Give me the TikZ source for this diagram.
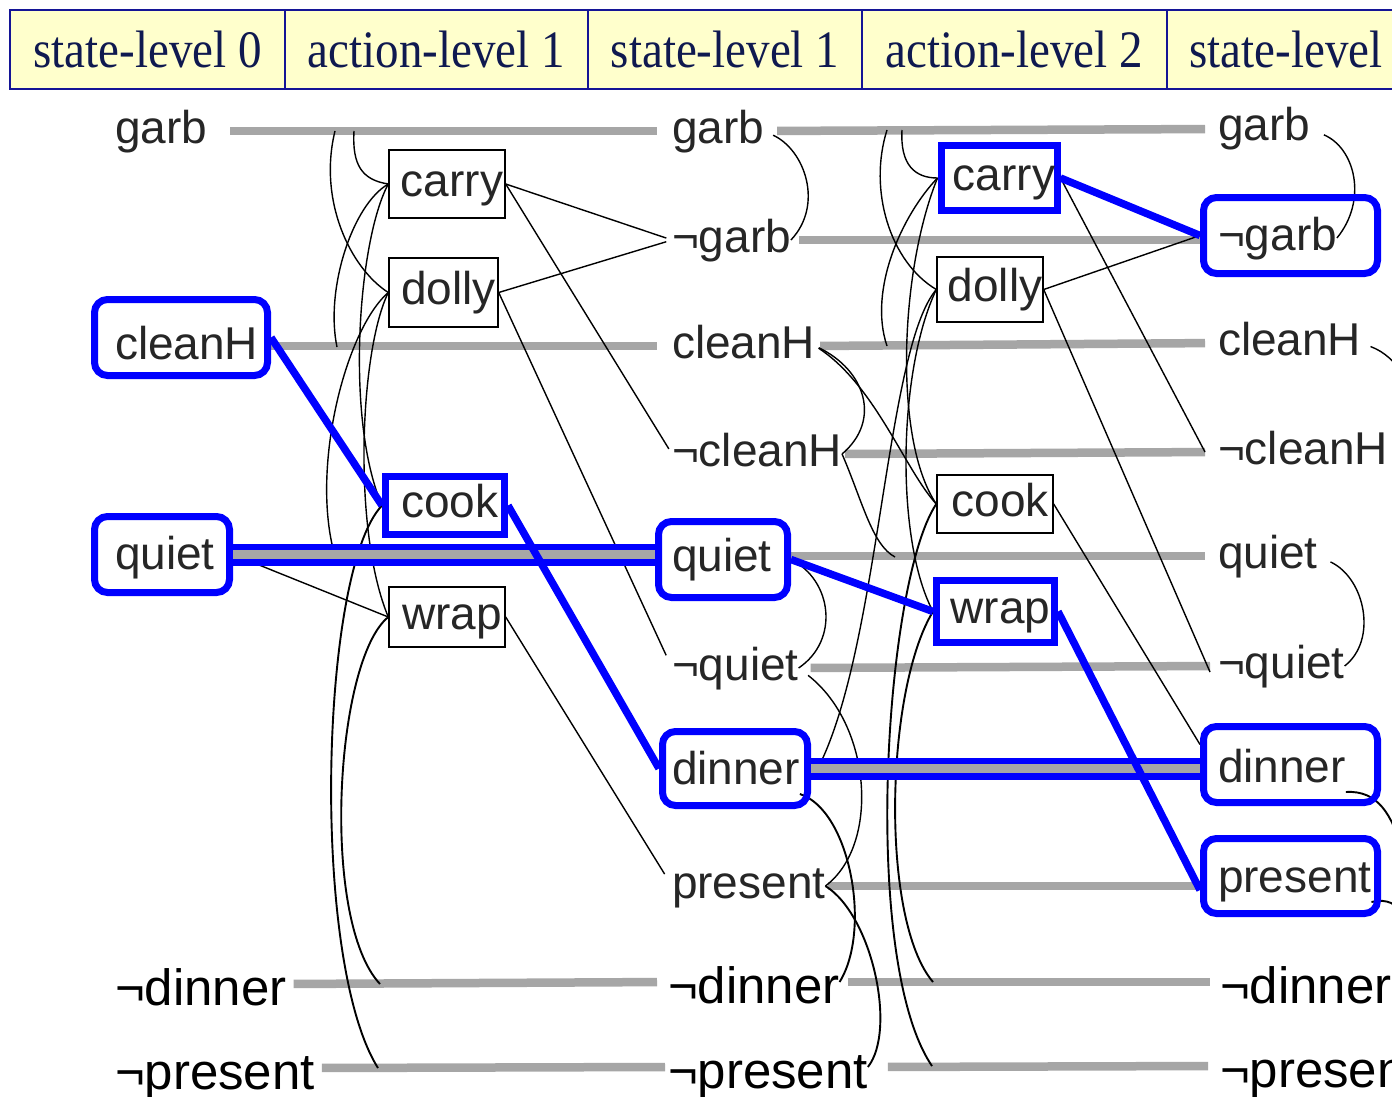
\documentclass[tikz,border=0pt]{standalone}
\usepackage{fontspec}
\setmainfont{Liberation Serif}
\newfontfamily\arialf{Liberation Sans}
\usetikzlibrary{calc}
\pgfdeclarelayer{paper}
\pgfdeclarelayer{wires}
\pgfsetlayers{paper,wires,main}

\definecolor{hlblue}{RGB}{0,0,255}
\definecolor{noopgrey}{RGB}{166,166,166}
\definecolor{labgrey}{RGB}{38,38,38}
\definecolor{hdrfill}{RGB}{255,255,204}
\definecolor{hdrline}{RGB}{20,20,150}
\definecolor{hdrtext}{RGB}{15,25,80}

\newcommand{\labfont}{\arialf\fontsize{46}{50}\selectfont}
\newcommand{\negfont}{\arialf\fontsize{51}{55}\selectfont}
\newcommand{\hdrfont}{\fontsize{47}{52}\selectfont}
\newcommand{\hdrtxt}[1]{\scalebox{1}[1.12]{#1}}
\newcommand{\acttxt}[1]{\hspace*{10pt}#1}

\begin{document}
\begin{tikzpicture}[x=1pt, y=-1pt,
  lab/.style={anchor=west, inner sep=0pt, outer sep=0pt, text height=34pt, text depth=10pt, font=\labfont, text=labgrey},
  neglab/.style={anchor=west, inner sep=0pt, outer sep=0pt, text height=44pt, text depth=2pt, font=\negfont, text=black},
  act/.style={draw=black, line width=1.4pt, inner sep=0pt, text height=34pt, text depth=10pt, font=\labfont, text=labgrey},
  actsel/.style={act, draw=hlblue, line width=7pt},
  hl/.style={draw=hlblue, line width=7pt, rounded corners=13pt, inner sep=0pt},
  hdrcell/.style={draw=hdrline, fill=hdrfill, line width=2.8pt, minimum height=79pt, inner sep=0pt, font=\hdrfont, text=hdrtext},
  noop/.style={draw=noopgrey, line width=8.5pt},
  noopsel/.style={draw=hlblue, line width=6.5pt, double=noopgrey, double distance=9pt},
  mutex/.style={draw=black, line width=1.4pt},
  arcsolid/.style={draw=black, line width=1.9pt},
  link/.style={draw=black, line width=1.4pt},
  causal/.style={draw=hlblue, line width=7.5pt},
]

\useasboundingbox (0,0) rectangle (1392,1097);
\clip (0,0) rectangle (1392,1097);
\begin{pgfonlayer}{paper}
\fill[white] (0,0) rectangle (1392,1097);
\end{pgfonlayer}

% ---------- header row ----------
\node[hdrcell, minimum width=275pt] (hdr0) at (147.5,49.5) {\hdrtxt{state-level 0}};
\node[hdrcell, minimum width=303pt] (hdr1) at (436.5,49.5) {\hdrtxt{action-level 1}};
\node[hdrcell, minimum width=274pt] (hdr2) at (725,49.5) {\hdrtxt{state-level 1}};
\node[hdrcell, minimum width=305pt] (hdr3) at (1014.5,49.5) {\hdrtxt{action-level 2}};
\node[hdrcell, minimum width=273pt] (hdr4) at (1303.5,49.5) {\hdrtxt{state-level 2}};

% ---------- state level 0 ----------
\node[lab] (garb0)   at (115,131) {garb};
\node[lab] (cleanH0) at (115,347) {cleanH};
\node[lab] (quiet0)  at (115,557) {quiet};
\node[neglab] (ndinner0)  at (115,984) {¬dinner};
\node[neglab] (npresent0) at (115,1068) {¬present};

% ---------- state level 1 ----------
\node[lab] (garb1)    at (672,131) {garb};
\node[lab] (ngarb1)   at (672,240) {¬garb};
\node[lab] (cleanH1)  at (672,346) {cleanH};
\node[lab] (ncleanH1) at (672,454) {¬cleanH};
\node[lab] (quiet1)   at (672,559) {quiet};
\node[lab] (nquiet1)  at (672,668) {¬quiet};
\node[lab] (dinner1)  at (672,772) {dinner};
\node[lab] (present1) at (672,886) {present};
\node[neglab] (ndinner1)  at (668,982) {¬dinner};
\node[neglab] (npresent1) at (668,1067) {¬present};

% ---------- state level 2 ----------
\node[lab] (garb2)    at (1218,129) {garb};
\node[lab] (ngarb2)   at (1218,238) {¬garb};
\node[lab] (cleanH2)  at (1218,343) {cleanH};
\node[lab] (ncleanH2) at (1218,452) {¬cleanH};
\node[lab] (quiet2)   at (1218,556) {quiet};
\node[lab] (nquiet2)  at (1218,666) {¬quiet};
\node[lab] (dinner2)  at (1218,770) {dinner};
\node[lab] (present2) at (1218,880) {present};
\node[neglab] (ndinner2)  at (1220,982) {¬dinner};
\node[neglab] (npresent2) at (1220,1066) {¬present};

% ---------- actions ----------
\node[act, minimum width=116pt, minimum height=68pt] (carry1) at (447,184) {\acttxt{carry}};
\node[act, minimum width=109pt, minimum height=69pt] (dolly1) at (443.5,292.5) {\acttxt{dolly}};
\node[actsel, minimum width=119pt, minimum height=58pt] (cook1) at (445,505.5) {\acttxt{cook}};
\node[act, minimum width=116pt, minimum height=60pt] (wrap1) at (447,617) {\acttxt{wrap}};

\node[actsel, minimum width=116pt, minimum height=64pt] (carry2) at (999,178) {\acttxt{carry}};
\node[act, minimum width=106pt, minimum height=65pt] (dolly2) at (990,289.5) {\acttxt{dolly}};
\node[act, minimum width=116pt, minimum height=58pt] (cook2) at (995,504) {\acttxt{cook}};
\node[actsel, minimum width=118pt, minimum height=62pt] (wrap2) at (995.5,611.5) {\acttxt{wrap}};

% ---------- highlighted facts ----------
\node[hl, minimum width=173pt, minimum height=76pt] (h-cleanH0) at (181,337.5) {};
\node[hl, minimum width=135pt, minimum height=76pt] (h-quiet0) at (162,554.5) {};
\node[hl, minimum width=129pt, minimum height=76pt] (h-quiet1) at (723,559.5) {};
\node[hl, minimum width=145pt, minimum height=74pt] (h-dinner1) at (735,768.5) {};
\node[hl, minimum width=174pt, minimum height=76pt] (h-ngarb2) at (1290.5,235.5) {};
\node[hl, minimum width=174pt, minimum height=76pt] (h-dinner2) at (1290.5,764.5) {};
\node[hl, minimum width=174pt, minimum height=75pt] (h-present2) at (1290.5,876) {};

% points on the persistence lines where mutex arcs end
\coordinate (g0a) at (354,131);
\coordinate (g0b) at (335,131);
\coordinate (c0a) at (337,347);
\coordinate (q0a) at (335,556);
\coordinate (nd0a) at (380,984);
\coordinate (np0a) at (378,1068);
\coordinate (g1a) at (902,130);
\coordinate (g1b) at (887,130);
\coordinate (c1a) at (887,346);
\coordinate (q1a) at (895,557);
\coordinate (d1a) at (817,770);
\coordinate (nd1a) at (933,982);
\coordinate (np1a) at (932,1066);
\coordinate (cH2x) at (1402,374);
\coordinate (d2x) at (1402,850);
\coordinate (p2x) at (1402,912);

\begin{pgfonlayer}{wires}
% persistence (no-op) lines, level 0 -> 1
\draw[noop, shorten <=23pt, shorten >=15pt] (garb0.east) -- (garb1.west);
\draw[noop, shorten >=15pt] (h-cleanH0.east |- cleanH1.west) -- (cleanH1.west);
\draw[noop, shorten <=7pt, shorten >=11pt] (ndinner0.east) -- (ndinner1.west);
\draw[noop, shorten <=7pt, shorten >=3pt] (npresent0.east) -- (npresent1.west);
% persistence lines, level 1 -> 2
\draw[noop, shorten <=13pt, shorten >=13pt] (garb1.east) -- (garb2.west);
\draw[noop, shorten <=8pt] (ngarb1.east) -- (ngarb1.east -| h-ngarb2.west);
\draw[noop, shorten <=5pt, shorten >=13pt] (cleanH1.east) -- (cleanH2.west);
\draw[noop, shorten <=3pt, shorten >=13pt] (ncleanH1.east) -- (ncleanH2.west);
\draw[noop, shorten >=13pt] (h-quiet1.east |- quiet2.west) -- (quiet2.west);
\draw[noop, shorten <=12pt, shorten >=8pt] (nquiet1.east) -- (nquiet2.west);
\draw[noop, shorten <=3pt] (present1.east) -- (present1.east -| h-present2.west);
\draw[noop, shorten <=8pt, shorten >=10pt] (ndinner1.east) -- (ndinner2.west);
\draw[noop, shorten <=20pt, shorten >=12pt] (npresent1.east) -- (npresent2.west);

% action level 1: preconditions and mutex arcs
\draw[mutex] (g0a) .. controls (352,165) and (362,180) .. (carry1.west);
\draw[mutex] (g0b) .. controls (318,200) and (350,268) .. (dolly1.west);
\draw[mutex] (carry1.west) .. controls (352,205) and (325,290) .. (c0a);
\draw[mutex] (carry1.west) .. controls (358,240) and (345,420) .. (cook1.west);
\draw[mutex] (dolly1.west) .. controls (345,330) and (310,470) .. (q0a);
\draw[mutex] (dolly1.west) .. controls (360,350) and (352,530) .. (wrap1.west);
\draw[link] (h-quiet0.east) -- (wrap1.west);
\draw[arcsolid] (cook1.west) .. controls (320,570) and (310,960) .. (np0a);
\draw[arcsolid] (wrap1.west) .. controls (335,660) and (320,920) .. (nd0a);
% action level 1: effects
\draw[link, shorten >=6pt] (carry1.east) -- (ngarb1.west);
\draw[link, shorten >=6pt] (carry1.east) -- (ncleanH1.west);
\draw[link, shorten >=6pt] (dolly1.east) -- (ngarb1.west);
\draw[link, shorten >=14pt] (dolly1.east) -- (nquiet1.west);
\draw[link, shorten >=14pt] (wrap1.east) -- (present1.west);

% state level 1: mutex arcs
\draw[mutex, shorten <=10pt] (garb1.east) .. controls (805,150) and (824,205) .. (ngarb1.east);
\draw[mutex, shorten <=4pt] (cleanH1.east) .. controls (865,370) and (882,420) .. (ncleanH1.east);
\draw[mutex] (h-quiet1.east) .. controls (832,580) and (840,640) .. (nquiet1.east);
\draw[mutex, shorten <=12pt] (nquiet1.east) .. controls (872,725) and (880,845) .. (present1.east);
\draw[arcsolid] (dinner1.south east) .. controls (850,810) and (872,930) .. (ndinner1.east);
\draw[arcsolid] (present1.east) .. controls (872,915) and (897,1030) .. (npresent1.east);

% action level 2: preconditions and mutex arcs
\draw[mutex] (g1a) .. controls (900,165) and (915,178) .. (carry2.west);
\draw[mutex] (g1b) .. controls (868,190) and (890,262) .. (dolly2.west);
\draw[mutex] (carry2.west) .. controls (902,215) and (868,290) .. (c1a);
\draw[mutex] (carry2.west) .. controls (900,270) and (893,440) .. (cook2.west);
\draw[mutex] (dolly2.west) .. controls (885,350) and (880,650) .. (d1a);
\draw[mutex] (dolly2.west) .. controls (898,370) and (895,540) .. (wrap2.west);
\draw[mutex] (ncleanH1.east) .. controls (862,500) and (872,545) .. (q1a);
\draw[mutex, shorten <=4pt] (cleanH1.east) .. controls (875,385) and (905,470) .. (cook2.west);
\draw[arcsolid] (cook2.west) .. controls (885,580) and (860,960) .. (np1a);
\draw[arcsolid] (wrap2.west) .. controls (885,690) and (880,920) .. (nd1a);
% action level 2: effects
\draw[link] (carry2.east) -- ($(ncleanH2.west)+(-13,0)$);
\draw[link] (dolly2.east) -- (h-ngarb2.west);
\draw[link] (dolly2.east) -- ($(nquiet2.west)+(-8,6)$);
\draw[link] (cook2.east) -- ($(h-dinner2.west)+(0,-20)$);

% state level 2: mutex arcs
\draw[mutex, shorten <=15pt] (garb2.east) .. controls (1355,148) and (1368,200) .. (ngarb2.east);
\draw[mutex, shorten <=10pt] (cleanH2.east) .. controls (1385,352) and (1395,362) .. (cH2x);
\draw[mutex, shorten <=14pt] (quiet2.east) .. controls (1365,578) and (1378,640) .. (nquiet2.east);
\draw[arcsolid] (dinner2.south east) .. controls (1378,790) and (1392,815) .. (d2x);
\draw[arcsolid] (present2.south east) .. controls (1388,898) and (1396,905) .. (p2x);
\end{pgfonlayer}

% selected persistence lines
\draw[noopsel] (h-quiet0.east) -- (h-quiet0.east -| h-quiet1.west);
\draw[noopsel] (h-dinner1.east) -- (h-dinner1.east -| h-dinner2.west);
% selected causal links
\draw[causal] (h-cleanH0.east) -- (cook1.west);
\draw[causal] (cook1.east) -- (h-dinner1.west);
\draw[causal] (h-quiet1.east) -- (wrap2.west);
\draw[causal] (carry2.east) -- (h-ngarb2.west);
\draw[causal] (wrap2.east) -- ($(h-present2.west)+(0,14)$);
\end{tikzpicture}
\end{document}
